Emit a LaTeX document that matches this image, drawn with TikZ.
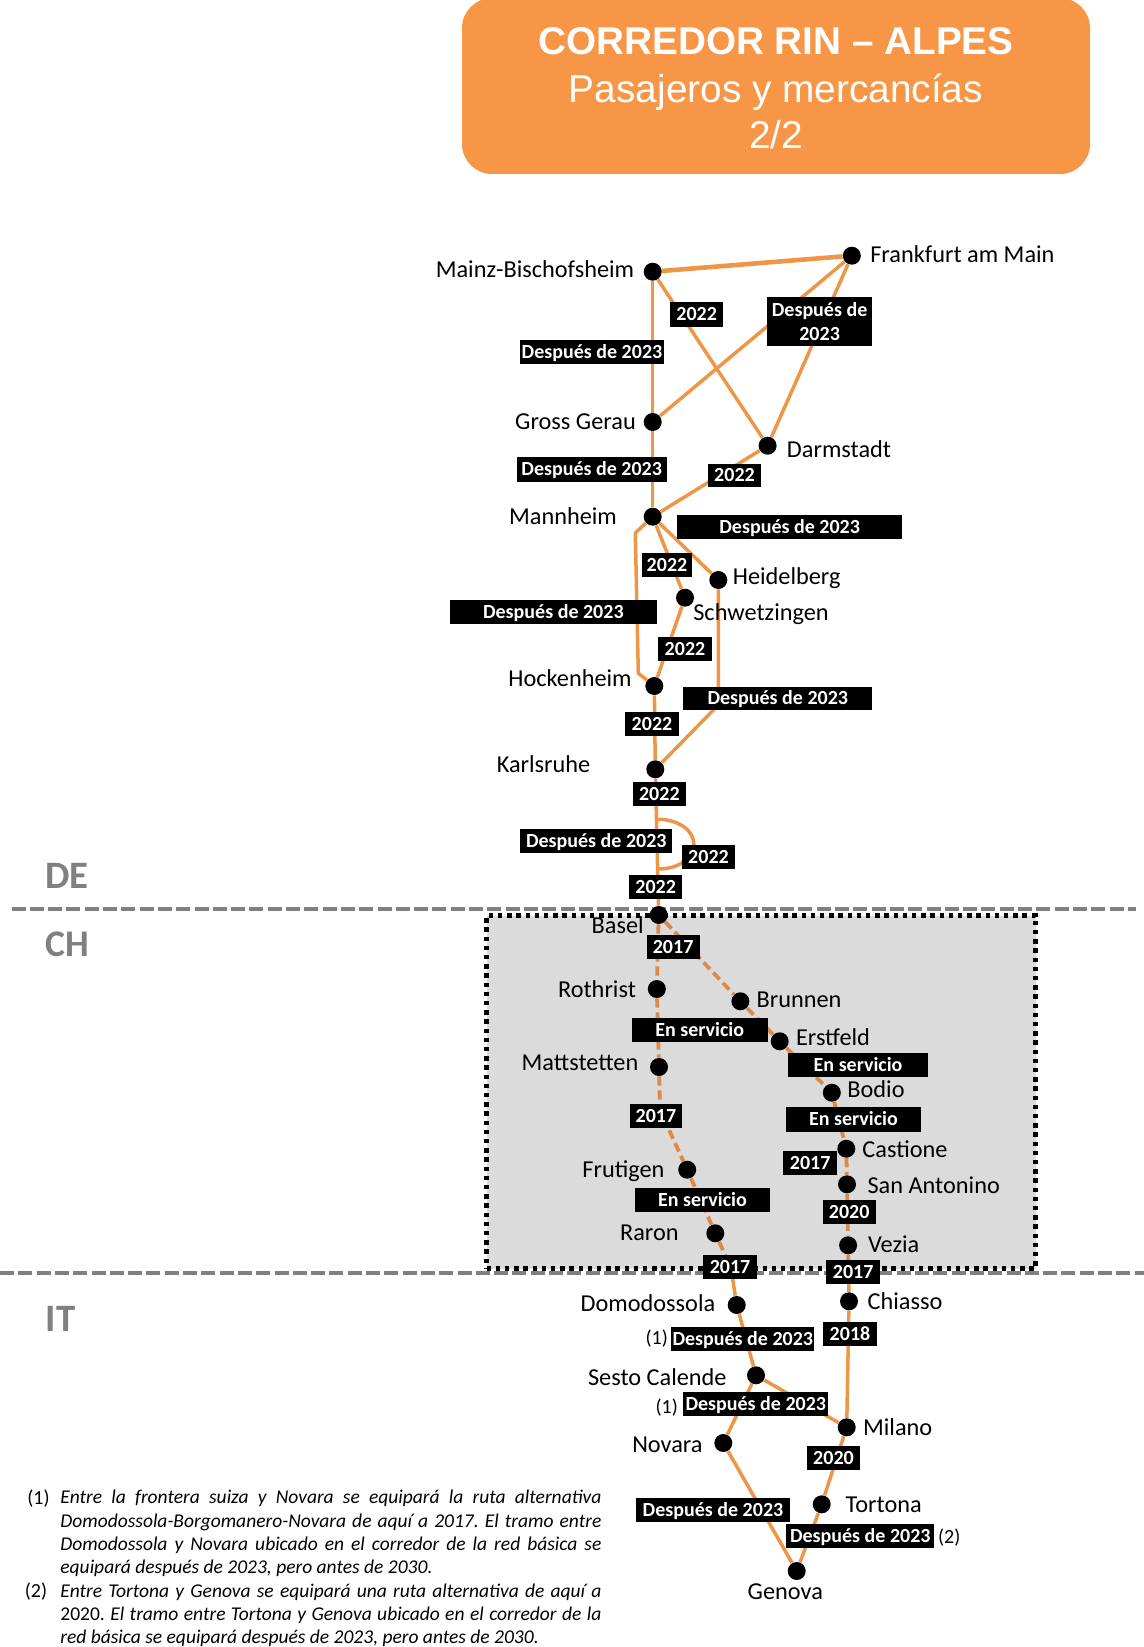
\documentclass[tikz,border=0pt]{standalone}
\usepackage{fontspec}
\setmainfont{Carlito}
\newfontfamily\titlefont{Liberation Sans}
\frenchspacing
\definecolor{rail}{HTML}{EE9648}
\definecolor{raildash}{HTML}{DD8A48}
\definecolor{titleorange}{HTML}{F79646}
\definecolor{borderline}{HTML}{808080}
\definecolor{chgray}{HTML}{DBDBDB}
\pgfdeclarelayer{bg}
\pgfdeclarelayer{rails}
\pgfsetlayers{bg,rails,main}
\tikzset{
  stn/.style={circle,fill=black,inner sep=0pt,minimum size=9pt},
  placelabel/.style={inner sep=0pt,text height=7.8pt,text depth=0pt,font=\fontsize{12.15}{13}\selectfont,text=black},
  tagbox/.style={fill=black,text=white,inner sep=0pt,align=center,font=\fontsize{10}{11.8}\selectfont\bfseries},
  tagline/.style={text height=6.4pt,text depth=0pt},
  railline/.style={draw=rail,line width=1.75pt,line join=round},
  railthick/.style={draw=rail,line width=2.3pt},
  raildashed/.style={draw=raildash,line width=1.9pt,dash pattern=on 4.6pt off 2.4pt},
  frontier/.style={draw=borderline,line width=2.4pt,dash pattern=on 7pt off 2.15pt},
  country/.style={inner sep=0pt,text=borderline,font=\fontsize{19.4}{22}\selectfont\bfseries},
  titletext/.style={inner sep=0pt,text=white},
  notetext/.style={inner sep=0pt,anchor=north west,font=\fontsize{9.75}{11.65}\selectfont},
  refmark/.style={inner sep=0pt,font=\fontsize{10}{12}\selectfont,text=black},
}
\newcommand{\stnat}[3]{\node[stn] (#1) at (#2,#3) {};}
\newcommand{\placeat}[4]{\node[placelabel] (#1) at (#2,#3) {#4};}
\newcommand{\tagat}[6]{\node[tagbox,tagline,minimum width={(#4-#2)*0.5pt},minimum height={(#5-#3)*0.5pt}] (#1) at ({(#2+#4)/2},{(#3+#5)/2}) {#6};}
\newcommand{\nline}[1]{\hbox to 270.5pt{#1}}
\begin{document}
\begin{tikzpicture}[x=0.5pt,y=-0.5pt]
\useasboundingbox (0,0) rectangle (1144,1647);
% title
\node[fill=titleorange,rounded corners=15pt,inner sep=0pt,minimum width=314pt,minimum height=88pt] (titlebox) at (776,86) {};
\node[titletext,font=\titlefont\fontsize{19.35}{22}\selectfont\bfseries] (t1) at (776,41.5) {CORREDOR RIN – ALPES};
\node[titletext,font=\titlefont\fontsize{19.4}{22}\selectfont] (t2) at (776,92) {Pasajeros y mercancías};
\node[titletext,font=\titlefont\fontsize{19.4}{22}\selectfont] (t3) at (776,135) {2/2};
% CH area and borders
\begin{pgfonlayer}{bg}
\node[draw=black,fill=chgray,line width=2.2pt,dash pattern=on 2.2pt off 2.4pt,inner sep=0pt,minimum width=274.5pt,minimum height=176.5pt] (chbox) at (761,1092) {};
\coordinate (f1a) at (11.5,909);
\coordinate (f1b) at (1136,909);
\coordinate (f2a) at (0,1273);
\coordinate (f2b) at (1144,1273);
\draw[frontier] (f1a) -- (f1b);
\draw[frontier] (f2a) -- (f2b);
\end{pgfonlayer}
\node[country] (de) at (67,875.5) {DE};
\node[country,font=\fontsize{18.8}{22}\selectfont\bfseries] (ch) at (67,944.5) {CH};
\node[country] (it) at (60.5,1319) {IT};
% stations
\stnat{mainz}{652.7}{271.7}
\stnat{frank}{851.8}{255.7}
\stnat{gross}{652.7}{422}
\stnat{darm}{767.6}{445.7}
\stnat{mann}{652.7}{516.7}
\stnat{schw}{685}{597.7}
\stnat{heid}{718.3}{580}
\stnat{hock}{654.3}{686}
\stnat{karl}{655.3}{769.3}
\stnat{basel}{658.7}{915}
\stnat{roth}{656.8}{989}
\stnat{brun}{740.4}{1001.3}
\stnat{erst}{779.7}{1041.3}
\stnat{matt}{659}{1067}
\stnat{bodio}{831.8}{1092.7}
\stnat{cast}{846.3}{1148.7}
\stnat{sana}{847}{1184.3}
\stnat{vezia}{848.1}{1245.3}
\stnat{chia}{849}{1301.3}
\stnat{frut}{687.2}{1169.7}
\stnat{raron}{715.3}{1233.3}
\stnat{domo}{736.7}{1305}
\stnat{sesto}{756}{1375.3}
\stnat{milano}{846.7}{1427.3}
\stnat{nova}{723.3}{1443}
\stnat{tort}{821.7}{1504.3}
\stnat{geno}{796.7}{1571}
% waypoints
\coordinate (ma) at (635.3,533);
\coordinate (mb) at (638.3,673.3);
\coordinate (hb) at (718.3,705);
\coordinate (la) at (656.7,819.3);
\coordinate (lb) at (694,845);
\coordinate (lc) at (681.7,863.3);
\coordinate (ld) at (658.5,869);
\coordinate (mf) at (660,1110);
\coordinate (ra) at (731,1268);
\coordinate (va) at (848.5,1270);
\begin{pgfonlayer}{rails}
\draw[railthick] (mainz) -- (frank);
\draw[railline] (mainz) -- (gross);
\draw[railline] (mainz) -- (darm);
\draw[railline] (gross) -- (frank);
\draw[railline] (frank) -- (darm);
\draw[railline] (gross) -- (mann);
\draw[railline] (darm) -- (mann);
\draw[railline] (mann) -- (heid);
\draw[railline] (mann) -- (schw);
\draw[railline] (mann) -- (ma) -- (mb) -- (hock);
\draw[railline] (schw) -- (hock);
\draw[railline] (heid) -- (hb) -- (karl);
\draw[railline] (hock) -- (karl);
\draw[railline] (karl) -- (basel);
\draw[railline] (la) .. controls (678,819) and (694,830) .. (lb) -- (lc) .. controls (675,867) and (667,869) .. (ld);
\draw[raildashed] (basel) -- (roth);
\draw[raildashed] (roth) -- (matt);
\draw[raildashed] (matt) -- (mf) -- (frut);
\draw[raildashed] (frut) -- (raron);
\draw[raildashed] (raron) -- (ra);
\draw[railline] (ra) -- (domo);
\draw[raildashed] (basel) -- (brun);
\draw[raildashed] (brun) -- (erst);
\draw[raildashed] (erst) -- (bodio);
\draw[raildashed] (bodio) -- (cast);
\draw[raildashed] (cast) -- (sana);
\draw[raildashed] (sana) -- (vezia);
\draw[raildashed] (vezia) -- (va);
\draw[railline] (va) -- (chia);
\draw[railline] (chia) -- (milano);
\draw[railline] (domo) -- (sesto);
\draw[railline] (sesto) -- (nova);
\draw[railline] (sesto) -- (milano);
\draw[railline] (nova) -- (geno);
\draw[railline] (milano) -- (tort);
\draw[railline] (tort) -- (geno);
\end{pgfonlayer}
% tags
\tagat{a1}{670.4}{302}{723}{326.7}{2022}
\node[tagbox,minimum width=52.8pt,minimum height=24.15pt] (a2) at (819.6,321.5) {Después de\\2023};
\tagat{a3}{520}{340}{664}{364}{Después de 2023}
\tagat{a4}{516.8}{457.3}{666.6}{481.7}{Después de 2023}
\tagat{a5}{708}{463.7}{761}{487.3}{2022}
\tagat{a6}{677}{515}{902.3}{539.3}{Después de 2023}
\tagat{b1}{642}{552.7}{692}{576.7}{2022}
\tagat{b2}{450}{600}{656.7}{624}{Después de 2023}
\tagat{b3}{658.3}{637.3}{711.7}{661}{2022}
\tagat{b4}{683.3}{686.7}{872.3}{710.3}{Después de 2023}
\tagat{b5}{625.3}{712}{678.7}{736}{2022}
\tagat{b6}{633}{781.7}{685.7}{805.7}{2022}
\tagat{b7}{520.3}{829}{672.3}{853}{Después de 2023}
\tagat{b8}{682}{845}{735}{869}{2022}
\tagat{b9}{629.3}{875}{682}{899}{2022}
\tagat{c1}{646.5}{935}{699.7}{959}{2017}
\tagat{c2}{632}{1017.7}{767.5}{1041.7}{En servicio}
\tagat{c3}{788.2}{1052.7}{928}{1076.7}{En servicio}
\tagat{c4}{786}{1107.3}{921}{1131.7}{En servicio}
\tagat{c5}{629.5}{1104}{682.4}{1128.3}{2017}
\tagat{c6}{783.4}{1150.7}{837}{1175}{2017}
\tagat{c7}{822.6}{1200}{875.8}{1223.7}{2020}
\tagat{c8}{634.6}{1188}{770.4}{1212.3}{En servicio}
\tagat{c9}{703.4}{1255}{756.7}{1279}{2017}
\tagat{c10}{826.3}{1260}{880}{1284}{2017}
\tagat{d1}{671.3}{1326.7}{814.3}{1351}{Después de 2023}
\tagat{d2}{823.3}{1321.7}{876.7}{1345.7}{2018}
\tagat{d3}{683.3}{1392}{828.3}{1416}{Después de 2023}
\tagat{d4}{807}{1446.3}{860}{1470.3}{2020}
\tagat{d5}{636.3}{1497.7}{789.7}{1521.7}{Después de 2023}
\tagat{d6}{786.3}{1523.7}{934.3}{1547.7}{Después de 2023}
\node[refmark] (m1) at (656.7,1339) {(1)};
\node[refmark] (m2) at (666.7,1407.3) {(1)};
\node[refmark] (m3) at (949.3,1537.3) {(2)};
% place names
\placeat{lmainz}{535}{270}{Mainz-Bischofsheim}
\placeat{lfrank}{962.4}{255}{Frankfurt am Main}
\placeat{lgross}{575.5}{421.7}{Gross Gerau}
\placeat{ldarm}{839}{450}{Darmstadt}
\placeat{lmann}{563}{516.7}{Mannheim}
\placeat{lheid}{786.7}{577}{Heidelberg}
\placeat{lschw}{761}{613}{Schwetzingen}
\placeat{lhock}{570}{679}{Hockenheim}
\placeat{lkarl}{543.5}{764.3}{Karlsruhe}
\placeat{lbasel}{617.7}{926}{Basel}
\placeat{lroth}{597}{990}{Rothrist}
\placeat{lbrun}{799}{999.3}{Brunnen}
\placeat{lerst}{833}{1037.3}{Erstfeld}
\placeat{lmatt}{580}{1062.7}{Mattstetten}
\placeat{lbodio}{876}{1090}{Bodio}
\placeat{lcast}{905}{1149.3}{Castione}
\placeat{lsana}{933.7}{1185.7}{San Antonino}
\placeat{lfrut}{623.4}{1169.3}{Frutigen}
\placeat{lraron}{649.4}{1232.7}{Raron}
\placeat{lvezia}{893.7}{1244.3}{Vezia}
\placeat{ldomo}{648}{1304}{Domodossola}
\placeat{lchia}{905}{1302}{Chiasso}
\placeat{lsesto}{657.3}{1378}{Sesto Calende}
\placeat{lmilano}{897.7}{1428}{Milano}
\placeat{lnova}{667.4}{1444.7}{Novara}
\placeat{ltort}{883.7}{1504.7}{Tortona}
\placeat{lgeno}{785.3}{1591.7}{Genova}
% notes
\node[refmark] (n1) at (38.5,1499) {(1)};
\node[refmark] (n2) at (36,1592) {(2)};
\node[notetext] (note1) at (60,1490) {\vbox{\baselineskip=11.65pt\itshape
\nline{Entre la frontera suiza y Novara se equipará la ruta alternativa}
\nline{Domodossola-Borgomanero-Novara de aquí a 2017. El tramo entre}
\nline{Domodossola y Novara ubicado en el corredor de la red básica se}
\hbox{equipará después de 2023, pero antes de 2030.}
\nline{Entre Tortona y Genova se equipará una ruta alternativa de aquí a}
\nline{{\upshape 2020.} El tramo entre Tortona y Genova ubicado en el corredor de la}
\hbox{red básica se equipará después de 2023, pero antes de 2030.}}};
\end{tikzpicture}
\end{document}
